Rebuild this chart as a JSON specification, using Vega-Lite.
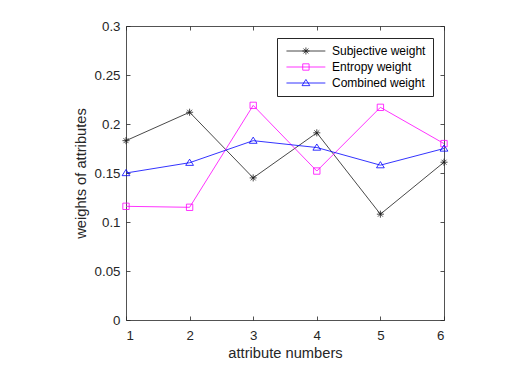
{
  "$schema": "https://vega.github.io/schema/vega-lite/v6.json",
  "width": 318,
  "height": 294,
  "autosize": "none",
  "padding": {"left": 126, "top": 26, "right": 64, "bottom": 54},
  "background": "white",
  "config": {
    "view": {"stroke": null},
    "font": "Liberation Sans",
    "axis": {
      "grid": false,
      "domainColor": "#262626",
      "tickColor": "#262626",
      "labelColor": "#262626",
      "titleColor": "#262626",
      "labelFont": "Liberation Sans",
      "titleFont": "Liberation Sans",
      "labelFontSize": 13.3,
      "titleFontSize": 14.7,
      "titleFontWeight": "normal",
      "tickSize": -4,
      "domainWidth": 0.8,
      "tickWidth": 0.8
    },
    "legend": {
      "title": null,
      "orient": "none",
      "legendX": 151,
      "legendY": 12,
      "symbolSize": 50,
      "symbolStrokeWidth": 0.8,
      "labelFontSize": 12,
      "labelFont": "Liberation Sans",
      "labelColor": "#000000",
      "labelOffset": 36,
      "padding": 7,
      "rowPadding": 4,
      "strokeColor": "#262626",
      "fillColor": "white"
    }
  },
  "data": {
    "values": [
      {"attr": 1, "series": "Subjective weight", "value": 0.183},
      {"attr": 2, "series": "Subjective weight", "value": 0.212},
      {"attr": 3, "series": "Subjective weight", "value": 0.145},
      {"attr": 4, "series": "Subjective weight", "value": 0.191},
      {"attr": 5, "series": "Subjective weight", "value": 0.108},
      {"attr": 6, "series": "Subjective weight", "value": 0.161},
      {"attr": 1, "series": "Entropy weight", "value": 0.116},
      {"attr": 2, "series": "Entropy weight", "value": 0.115},
      {"attr": 3, "series": "Entropy weight", "value": 0.219},
      {"attr": 4, "series": "Entropy weight", "value": 0.152},
      {"attr": 5, "series": "Entropy weight", "value": 0.217},
      {"attr": 6, "series": "Entropy weight", "value": 0.180},
      {"attr": 1, "series": "Combined weight", "value": 0.150},
      {"attr": 2, "series": "Combined weight", "value": 0.1605},
      {"attr": 3, "series": "Combined weight", "value": 0.183},
      {"attr": 4, "series": "Combined weight", "value": 0.176},
      {"attr": 5, "series": "Combined weight", "value": 0.158},
      {"attr": 6, "series": "Combined weight", "value": 0.175}
    ]
  },
  "layer": [
    {
      "mark": {"type": "line", "strokeWidth": 0.8},
      "encoding": {
        "x": {
          "field": "attr", "type": "quantitative",
          "scale": {"domain": [1, 6], "nice": false, "zero": false},
          "axis": {"orient": "bottom", "values": [1, 2, 3, 4, 5, 6], "format": "d", "title": "attribute numbers", "labelPadding": 12, "titlePadding": 4}
        },
        "y": {
          "field": "value", "type": "quantitative",
          "scale": {"domain": [0, 0.3], "nice": false},
          "axis": {"orient": "left", "values": [0, 0.05, 0.1, 0.15, 0.2, 0.25, 0.3], "format": ".2~f", "title": "weights of attributes", "labelPadding": 10, "titlePadding": 6}
        },
        "stroke": {
          "field": "series", "type": "nominal",
          "scale": {"range": ["#0000ff", "#ff00ff", "#1a1a1a"]},
          "legend": null
        },
        "detail": {"field": "series"}
      }
    },
    {
      "mark": {
        "type": "point", "filled": false, "strokeWidth": 0.8, "size": 50, "opacity": 1,
        "shape": {"expr": "datum.series ? (datum.series === 'Subjective weight' ? 'M0,-1V1M-1,0H1M-0.7,-0.7L0.7,0.7M-0.7,0.7L0.7,-0.7' : datum.series === 'Entropy weight' ? 'M-0.9,-0.9H0.9V0.9H-0.9Z' : 'M0,-1L1.1,0.75H-1.1Z') : (datum.value === 'Subjective weight' ? 'M-1,0H10M4.5,-1V1M3.5,0H5.5M3.8,-0.7L5.2,0.7M3.8,0.7L5.2,-0.7' : datum.value === 'Entropy weight' ? 'M-1,0H10M3.6,-0.9H5.4V0.9H3.6Z' : 'M-1,0H10M4.5,-1L5.6,0.75H3.4Z')"}
      },
      "encoding": {
        "x": {
          "field": "attr", "type": "quantitative",
          "axis": {"orient": "top", "values": [1, 2, 3, 4, 5, 6], "labels": false, "title": null}
        },
        "y": {
          "field": "value", "type": "quantitative",
          "axis": {"orient": "right", "values": [0, 0.05, 0.1, 0.15, 0.2, 0.25, 0.3], "labels": false, "title": null}
        },
        "color": {
          "field": "series", "type": "nominal",
          "scale": {"domain": ["Subjective weight", "Entropy weight", "Combined weight"], "range": ["#1a1a1a", "#ff00ff", "#0000ff"]}
        }
      }
    }
  ],
  "resolve": {"axis": {"x": "independent", "y": "independent"}}
}
